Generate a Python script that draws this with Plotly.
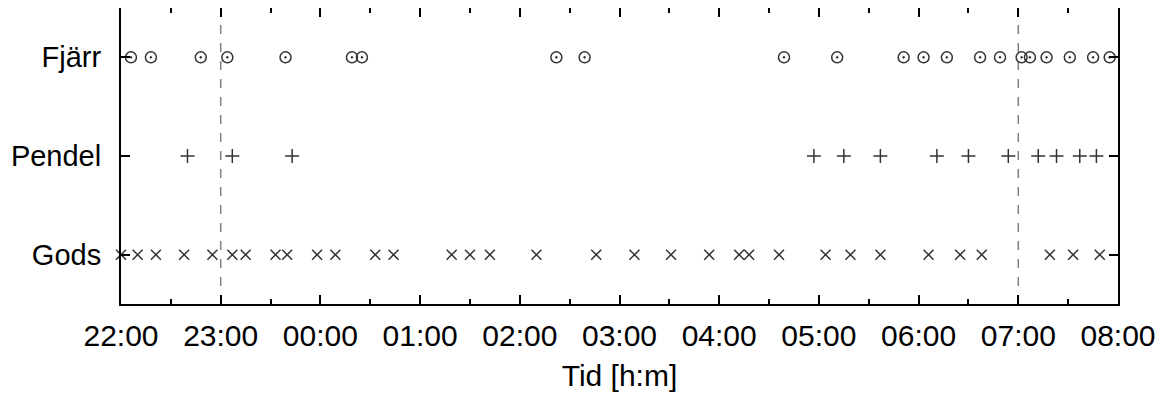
import plotly.graph_objects as go

categories = ["Fjärr", "Pendel", "Gods"]
cat_pos = [2, 1, 0]

fjarr_times = ["22:06", "22:18", "22:48", "23:04", "23:39", "00:19", "00:25",
               "02:22", "02:39", "04:39", "05:11", "05:51", "06:03", "06:17",
               "06:37", "06:49", "07:02", "07:07", "07:17", "07:31", "07:45", "07:55"]
pendel_times = ["22:40", "23:07", "23:43", "04:57", "05:15", "05:37", "06:11",
                "06:30", "06:54", "07:12", "07:23", "07:37", "07:47"]
gods_times = ["22:00", "22:10", "22:21", "22:38", "22:55", "23:07", "23:15",
              "23:33", "23:40", "23:58", "00:09", "00:33", "00:44", "01:19",
              "01:30", "01:42", "02:10", "02:46", "03:09", "03:31", "03:54",
              "04:12", "04:18", "04:36", "05:04", "05:19", "05:37", "06:06",
              "06:25", "06:38", "07:19", "07:33", "07:49"]
dashed_times = ["23:00", "07:00"]
x_start, x_end = "22:00", "08:00"


def to_dt(hm):
    h, m = map(int, hm.split(":"))
    day = "2000-01-01" if h >= 12 else "2000-01-02"
    return f"{day} {h:02d}:{m:02d}:00"


series = [
    (fjarr_times, cat_pos[0], "circle-open-dot", 11),
    (pendel_times, cat_pos[1], "cross-thin-open", 10),
    (gods_times, cat_pos[2], "x-thin-open", 10),
]

fig = go.Figure()
for times, yv, sym, sz in series:
    fig.add_trace(go.Scatter(
        x=[to_dt(t) for t in times], y=[yv] * len(times), mode="markers",
        marker=dict(symbol=sym, size=sz, color="#333333",
                    line=dict(color="#333333", width=1.5)),
        showlegend=False, cliponaxis=False))

for t in dashed_times:
    fig.add_shape(type="line", xref="x", yref="paper", x0=to_dt(t), x1=to_dt(t),
                  y0=0, y1=1, line=dict(color="#808080", width=1.5, dash="dash"),
                  layer="below")

fam = "Liberation Sans, Arial, sans-serif"
fig.update_layout(
    width=1156, height=388, margin=dict(l=113, r=46, t=0, b=92, autoexpand=False),
    plot_bgcolor="white", paper_bgcolor="white",
    font=dict(family=fam, size=29, color="black"),
    xaxis=dict(range=[to_dt(x_start), to_dt(x_end)], type="date",
               tickformat="%H:%M", dtick=3600000, tick0=to_dt(x_start),
               ticks="inside", ticklen=9, tickwidth=1.5, tickcolor="black",
               showline=True, linecolor="black", linewidth=2, mirror="ticks",
               showgrid=False, zeroline=False, automargin=False,
               tickfont=dict(family=fam, size=30, color="black"),
               minor=dict(dtick=1800000, ticks="inside", ticklen=5,
                          tickwidth=1.5, tickcolor="black", showgrid=False),
               title=dict(text="Tid [h:m]", standoff=14,
                          font=dict(family=fam, size=30, color="black")),
               ticklabelstandoff=4),
    yaxis=dict(range=[-0.5, 2.5], tickvals=cat_pos, ticktext=categories,
               ticks="inside", ticklen=9, tickwidth=1.5, tickcolor="black",
               showline=True, linecolor="black", linewidth=2, mirror="ticks",
               showgrid=False, zeroline=False, ticklabelstandoff=12,
               automargin=False,
               tickfont=dict(family=fam, size=29, color="black")),
)

fig.write_html("out.html")
